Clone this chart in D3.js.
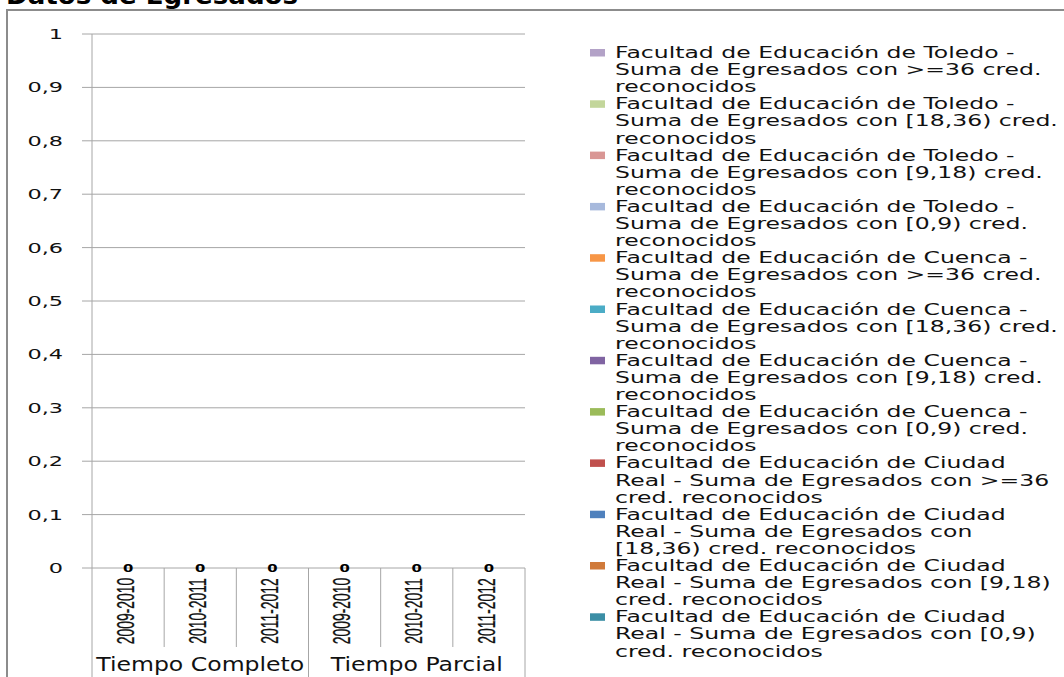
<!DOCTYPE html>
<html>
<head>
<meta charset="utf-8">
<script src="https://cdn.jsdelivr.net/npm/d3@7"></script>
<style>
  html, body { margin: 0; padding: 0; background: #fff; }
  svg { display: block; font-family: "DejaVu Sans", Verdana, sans-serif; }
</style>
</head>
<body>
<svg id="chart" width="1064" height="677"></svg>
<script>
// categories (two-level axis)
const groups = ['Tiempo Completo', 'Tiempo Parcial'];
const years = ['2009-2010', '2010-2011', '2011-2012'];
const categories = groups.flatMap(g => years.map(y => ({ group: g, year: y })));

// y ticks
const yTicks = [0, 0.1, 0.2, 0.3, 0.4, 0.5, 0.6, 0.7, 0.8, 0.9, 1];

// series values, one value per category (all zero in the source)
const toledo36   = [0, 0, 0, 0, 0, 0];
const toledo18   = [0, 0, 0, 0, 0, 0];
const toledo9    = [0, 0, 0, 0, 0, 0];
const toledo0    = [0, 0, 0, 0, 0, 0];
const cuenca36   = [0, 0, 0, 0, 0, 0];
const cuenca18   = [0, 0, 0, 0, 0, 0];
const cuenca9    = [0, 0, 0, 0, 0, 0];
const cuenca0    = [0, 0, 0, 0, 0, 0];
const creal36    = [0, 0, 0, 0, 0, 0];
const creal18    = [0, 0, 0, 0, 0, 0];
const creal9     = [0, 0, 0, 0, 0, 0];
const creal0     = [0, 0, 0, 0, 0, 0];

// legend entries, top to bottom as in the picture
const series = [
  { lines: ['Facultad de Educación de Toledo -', 'Suma de Egresados con >=36 cred.', 'reconocidos'], color: '#b3a2c7', values: toledo36 },
  { lines: ['Facultad de Educación de Toledo -', 'Suma de Egresados con [18,36) cred.', 'reconocidos'], color: '#c3d69b', values: toledo18 },
  { lines: ['Facultad de Educación de Toledo -', 'Suma de Egresados con [9,18) cred.', 'reconocidos'], color: '#d99694', values: toledo9 },
  { lines: ['Facultad de Educación de Toledo -', 'Suma de Egresados con [0,9) cred.', 'reconocidos'], color: '#a7b9dc', values: toledo0 },
  { lines: ['Facultad de Educación de Cuenca -', 'Suma de Egresados con >=36 cred.', 'reconocidos'], color: '#f79646', values: cuenca36 },
  { lines: ['Facultad de Educación de Cuenca -', 'Suma de Egresados con [18,36) cred.', 'reconocidos'], color: '#4bacc6', values: cuenca18 },
  { lines: ['Facultad de Educación de Cuenca -', 'Suma de Egresados con [9,18) cred.', 'reconocidos'], color: '#8064a2', values: cuenca9 },
  { lines: ['Facultad de Educación de Cuenca -', 'Suma de Egresados con [0,9) cred.', 'reconocidos'], color: '#9bbb59', values: cuenca0 },
  { lines: ['Facultad de Educación de Ciudad', 'Real - Suma de Egresados con >=36', 'cred. reconocidos'], color: '#c0504d', values: creal36 },
  { lines: ['Facultad de Educación de Ciudad', 'Real - Suma de Egresados con', '[18,36) cred. reconocidos'], color: '#4f81bd', values: creal18 },
  { lines: ['Facultad de Educación de Ciudad', 'Real - Suma de Egresados con [9,18)', 'cred. reconocidos'], color: '#d07a3a', values: creal9 },
  { lines: ['Facultad de Educación de Ciudad', 'Real - Suma de Egresados con [0,9)', 'cred. reconocidos'], color: '#3b8ea5', values: creal0 }
];

const svg = d3.select('#chart');
const grid = '#a6a6a6';

const plot = { left: 92, right: 525, top: 34, bottom: 568 };

const x = d3.scaleBand()
  .domain(d3.range(categories.length))
  .range([plot.left, plot.right])
  .padding(0);

const y = d3.scaleLinear()
  .domain([0, 1])
  .range([plot.bottom, plot.top]);

const fmt = v => (v === 0 || v === 1) ? String(v) : v.toFixed(1).replace('.', ',');

// outer frame
svg.append('path')
  .attr('d', 'M7,677 V10 H1064')
  .attr('fill', 'none')
  .attr('stroke', '#8c8c8c')
  .attr('stroke-width', 2);

// title (cut at the top like the source)
svg.append('text')
  .attr('x', 6)
  .attr('y', 4)
  .attr('font-size', 24)
  .attr('font-weight', 'bold')
  .attr('textLength', 292)
  .attr('lengthAdjust', 'spacingAndGlyphs')
  .attr('fill', '#000')
  .text('Datos de Egresados');

// gridlines + y tick labels
svg.append('g')
  .selectAll('line')
  .data(yTicks)
  .join('line')
  .attr('x1', 82)
  .attr('x2', plot.right)
  .attr('y1', d => y(d))
  .attr('y2', d => y(d))
  .attr('stroke', grid)
  .attr('stroke-width', 1);

svg.append('g')
  .selectAll('text')
  .data(yTicks)
  .join('text')
  .attr('transform', d => `translate(63,${y(d)}) scale(1.6,1)`)
  .attr('dy', '0.36em')
  .attr('text-anchor', 'end')
  .attr('font-size', 14)
  .attr('fill', '#111')
  .text(fmt);

// y axis line, running down through the category labels
svg.append('line')
  .attr('x1', plot.left).attr('x2', plot.left)
  .attr('y1', plot.top).attr('y2', 677)
  .attr('stroke', grid);

// category separators
const bounds = d3.range(categories.length + 1).map(i => i < categories.length ? x(i) : plot.right);
svg.append('g')
  .selectAll('line')
  .data(bounds.slice(1))
  .join('line')
  .attr('x1', d => d).attr('x2', d => d)
  .attr('y1', plot.bottom)
  .attr('y2', (d, i) => ((i + 1) % years.length === 0) ? 677 : 647)
  .attr('stroke', grid);

// stacked columns (zero height)
const stack = d3.stack().keys(d3.range(series.length))
  .value((d, k) => series[k].values[d]);
const stacked = stack(d3.range(categories.length));

svg.append('g')
  .selectAll('g')
  .data(stacked)
  .join('g')
  .attr('fill', (d, i) => series[i].color)
  .selectAll('rect')
  .data(d => d)
  .join('rect')
  .attr('x', (d, i) => x(i) + x.bandwidth() * 0.2)
  .attr('width', x.bandwidth() * 0.6)
  .attr('y', d => y(d[1]))
  .attr('height', d => y(d[0]) - y(d[1]));

// data labels (stack totals)
svg.append('g')
  .selectAll('text')
  .data(d3.range(categories.length))
  .join('text')
  .attr('transform', i => `translate(${x(i) + x.bandwidth() / 2},${y(d3.sum(series, s => s.values[i]))}) scale(1.35,1)`)
  .attr('dy', '0.36em')
  .attr('text-anchor', 'middle')
  .attr('font-size', 11)
  .attr('font-weight', 'bold')
  .attr('fill', '#000')
  .text(i => d3.sum(series, s => s.values[i]));

// year labels, rotated and condensed
svg.append('g')
  .selectAll('text')
  .data(categories)
  .join('text')
  .attr('transform', (d, i) => `translate(${x(i) + x.bandwidth() / 2 - 3},611) rotate(-90) scale(0.58,1)`)
  .attr('dy', '0.36em')
  .attr('text-anchor', 'middle')
  .attr('font-family', '"Liberation Sans", Arial, sans-serif')
  .attr('font-size', 24)
  .attr('fill', '#111')
  .attr('stroke', '#111')
  .attr('stroke-width', 0.3)
  .text(d => d.year);

// group labels
const groupWidth = [208, 172];
svg.append('g')
  .selectAll('text')
  .data(groups)
  .join('text')
  .attr('x', (d, gi) => (x(gi * years.length) + (gi === groups.length - 1 ? plot.right : x((gi + 1) * years.length))) / 2)
  .attr('y', 671)
  .attr('text-anchor', 'middle')
  .attr('font-size', 19)
  .attr('textLength', (d, gi) => groupWidth[gi])
  .attr('lengthAdjust', 'spacingAndGlyphs')
  .attr('fill', '#111')
  .text(d => d);

// legend
const legend = svg.append('g');
const step = 51.3, lineH = 17.1;
const item = legend.selectAll('g')
  .data(series)
  .join('g')
  .attr('transform', (d, i) => `translate(0,${i * step})`);

item.append('rect')
  .attr('x', 590)
  .attr('y', 49)
  .attr('width', 15)
  .attr('height', 7.5)
  .attr('fill', d => d.color);

item.selectAll('text')
  .data(d => d.lines)
  .join('text')
  .attr('transform', (d, j) => `translate(615,${58 + j * lineH}) scale(1.57,1)`)
  .attr('font-size', 15)
  .attr('fill', '#111')
  .text(d => d);
</script>
</body>
</html>
